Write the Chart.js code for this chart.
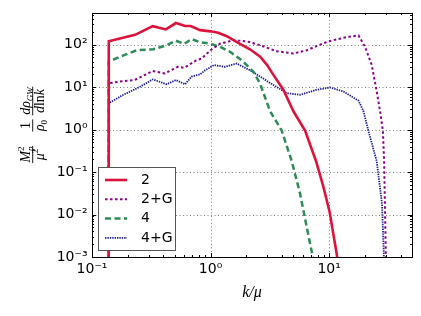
<!DOCTYPE html>
<html>
<head>
<meta charset="utf-8">
<script src="https://cdn.jsdelivr.net/npm/chart.js@4.4.0/dist/chart.umd.min.js"></script>
<style>
  html, body { margin: 0; padding: 0; background: #fff; }
</style>
</head>
<body>
<canvas id="myChart" width="421" height="316"></canvas>
<script>
// series names (legend order)
const seriesNames = ['2', '2+G', '4', '4+G'];

// k/mu values and spectrum values
const k_2   = [0.138, 0.1385, 0.231, 0.325, 0.42, 0.51, 0.61, 0.68, 0.815, 1.0, 1.16, 1.37, 1.77, 2.15, 2.62, 3.0, 3.39, 4.11, 5.0, 6.27, 7.76, 8.96, 10.1, 11.7, 12.5];
const rho_2 = [1e-5, 120, 170, 273, 229, 323, 275, 275, 220, 206, 190, 158, 105, 78, 52, 33, 19.4, 8.7, 2.7, 0.95, 0.18, 0.044, 0.0115, 0.001, 0.0003];

const k_2G   = [0.138, 0.1385, 0.172, 0.23, 0.325, 0.41, 0.53, 0.6, 0.75, 0.84, 1.0, 1.2, 1.55, 2.02, 2.62, 3.62, 5.0, 6.5, 8.0, 9.9, 14.1, 17.7, 20.1, 22.9, 25.2, 26.9, 28.4, 29.1, 30.1, 30.6];
const rho_2G = [1e-5, 12.3, 13.5, 14.8, 24, 21, 30, 28.6, 42, 47, 74, 105, 127, 120, 97, 70, 62, 74, 95, 120, 151, 165, 89, 33, 7.9, 2.7, 0.95, 0.18, 0.001, 0.0002];

const k_4   = [0.138, 0.1385, 0.184, 0.238, 0.329, 0.427, 0.51, 0.6, 0.69, 0.81, 1.0, 1.2, 1.46, 1.89, 2.15, 2.3, 2.62, 3.18, 3.98, 4.84, 5.69, 6.48, 7.28, 7.8];
const rho_4 = [1e-5, 40, 56, 74, 78, 97, 124, 104, 136, 115, 105, 89, 68, 40, 27.5, 23, 12, 2.7, 0.95, 0.18, 0.031, 0.005, 0.001, 0.0003];

const k_4G   = [0.138, 0.1385, 0.184, 0.254, 0.325, 0.427, 0.51, 0.61, 0.69, 0.815, 0.9, 1.07, 1.32, 1.66, 2.15, 2.62, 3.39, 4.4, 5.69, 7.87, 10.2, 13.2, 17.7, 19.5, 21.4, 25.2, 27.9, 29.0, 29.6];
const rho_4G = [1e-5, 4.2, 6.6, 10.2, 15.2, 11.7, 14.7, 11.7, 17.7, 20, 25, 33, 30, 36, 25, 17.7, 11.2, 7.2, 6.6, 8.7, 9.8, 7.9, 4.8, 2.7, 0.95, 0.18, 0.018, 0.001, 0.0002];

// axis ranges
const xMin = 0.1, xMax = 50;
const yMin = 1e-3, yMax = 560;

const supChars = { '-': '\u207B', '0': '\u2070', '1': '\u00B9', '2': '\u00B2', '3': '\u00B3' };
function powLabel(v) {
  const e = Math.log10(v);
  const r = Math.round(e);
  if (Math.abs(e - r) > 1e-6) return '';
  return '10' + String(r).split('').map(c => supChars[c]).join('');
}

function pts(ks, ys) {
  return ks.map((k, i) => ({ x: k, y: ys[i] }));
}

// inner decade tick values (major + 2..9 minor) of a log axis
function logTicks(lo, hi) {
  const out = [];
  for (let e = Math.floor(Math.log10(lo)); e <= Math.ceil(Math.log10(hi)); e++) {
    for (let m = 1; m < 10; m++) {
      const v = m * Math.pow(10, e);
      if (v >= lo * 0.9999 && v <= hi * 1.0001) out.push({ v: v, major: m === 1 });
    }
  }
  return out;
}

function drawRich(ctx, pieces, u0, v0) {
  let u = u0;
  pieces.forEach(p => {
    ctx.font = p.f;
    ctx.fillText(p.t, u, v0 + (p.dy || 0));
    if (p.adv !== false) u += ctx.measureText(p.t).width;
  });
}
function richWidth(ctx, pieces) {
  let w = 0;
  pieces.forEach(p => { ctx.font = p.f; if (p.adv !== false) w += ctx.measureText(p.t).width; });
  return w;
}

const serifI = 'italic 14px "Liberation Serif"';
const serif = '14px "Liberation Serif"';
const smallI = 'italic 9px "Liberation Serif"';
const small = '9px "Liberation Serif"';

const decor = {
  id: 'decor',
  beforeDatasetsDraw(chart) {
    const ctx = chart.ctx, a = chart.chartArea;
    const xs = chart.scales.x, ys = chart.scales.y;
    ctx.save();
    ctx.strokeStyle = 'rgba(0,0,0,0.5)';
    ctx.lineWidth = 1;
    ctx.setLineDash([1, 2.5]);
    logTicks(xMin, xMax).filter(t => t.major).forEach(t => {
      const px = Math.round(xs.getPixelForValue(t.v)) + 0.5;
      if (px <= a.left + 1 || px >= a.right - 1) return;
      ctx.beginPath(); ctx.moveTo(px, a.top); ctx.lineTo(px, a.bottom); ctx.stroke();
    });
    logTicks(yMin, yMax).filter(t => t.major).forEach(t => {
      const py = Math.round(ys.getPixelForValue(t.v)) + 0.5;
      if (py <= a.top + 1 || py >= a.bottom - 1) return;
      ctx.beginPath(); ctx.moveTo(a.left, py); ctx.lineTo(a.right, py); ctx.stroke();
    });
    ctx.restore();
  },
  afterDatasetsDraw(chart) {
    const ctx = chart.ctx, a = chart.chartArea;
    const xs = chart.scales.x, ys = chart.scales.y;
    ctx.save();
    // ticks pointing inward on all four sides
    ctx.strokeStyle = '#000';
    ctx.lineWidth = 1;
    logTicks(xMin, xMax).forEach(t => {
      const px = Math.round(xs.getPixelForValue(t.v)) + 0.5;
      const len = t.major ? 4 : 2;
      ctx.beginPath();
      ctx.moveTo(px, a.bottom); ctx.lineTo(px, a.bottom - len);
      ctx.moveTo(px, a.top); ctx.lineTo(px, a.top + len);
      ctx.stroke();
    });
    logTicks(yMin, yMax).forEach(t => {
      const py = Math.round(ys.getPixelForValue(t.v)) + 0.5;
      const len = t.major ? 4 : 2;
      ctx.beginPath();
      ctx.moveTo(a.left, py); ctx.lineTo(a.left + len, py);
      ctx.moveTo(a.right, py); ctx.lineTo(a.right - len, py);
      ctx.stroke();
    });
    // frame
    ctx.strokeRect(Math.round(a.left) + 0.5, Math.round(a.top) + 0.5,
      Math.round(a.right - a.left), Math.round(a.bottom - a.top));

    // legend
    const lx = 98.5, ly = 167.5, lw = 77, lh = 83;
    ctx.fillStyle = '#fff';
    ctx.fillRect(lx, ly, lw, lh);
    ctx.strokeStyle = '#555';
    ctx.strokeRect(lx, ly, lw, lh);
    chart.data.datasets.forEach((ds, i) => {
      const y = 180 + i * 19.3;
      ctx.strokeStyle = ds.borderColor;
      ctx.lineWidth = ds.borderWidth;
      ctx.setLineDash(ds.borderDash || []);
      ctx.beginPath(); ctx.moveTo(105, y); ctx.lineTo(127, y); ctx.stroke();
      ctx.setLineDash([]);
      ctx.fillStyle = '#000';
      ctx.font = '14px "DejaVu Sans"';
      ctx.textBaseline = 'middle';
      ctx.textAlign = 'left';
      ctx.fillText(ds.label, 141, y);
    });

    // x axis title
    ctx.fillStyle = '#000';
    ctx.textBaseline = 'alphabetic';
    ctx.textAlign = 'center';
    ctx.font = 'italic 16px "Liberation Serif"';
    ctx.fillText('k/\u03BC', 252, 297);

    // y axis title, three stacked fractions
    ctx.translate(32.7, 0);
    ctx.rotate(-Math.PI / 2);
    ctx.textAlign = 'left';
    const fracs = [
      { c: 154.5,
        num: [{ t: 'M', f: serifI }, { t: '2', f: small, dy: -6, adv: false }, { t: 'p', f: smallI, dy: 3 }],
        den: [{ t: '\u03BC', f: serifI }, { t: '2', f: small, dy: -6 }] },
      { c: 125.5,
        num: [{ t: '1', f: serif }],
        den: [{ t: '\u03C1', f: serifI }, { t: '0', f: small, dy: 3 }] },
      { c: 101,
        num: [{ t: 'd', f: serifI }, { t: '\u03C1', f: serifI }, { t: 'GW', f: smallI, dy: 3 }],
        den: [{ t: 'd', f: serifI }, { t: 'ln', f: serif }, { t: 'k', f: serifI }] }
    ];
    fracs.forEach(fr => {
      const wn = richWidth(ctx, fr.num), wd = richWidth(ctx, fr.den);
      const w = Math.max(wn, wd) + 1;
      const uc = -fr.c;
      drawRich(ctx, fr.num, uc - wn / 2, -2.5);
      drawRich(ctx, fr.den, uc - wd / 2, 11.5);
      ctx.lineWidth = 0.9;
      ctx.strokeStyle = '#000';
      ctx.beginPath(); ctx.moveTo(uc - w / 2, 0); ctx.lineTo(uc + w / 2, 0); ctx.stroke();
    });
    ctx.restore();
  }
};

const chart_obj = document.getElementById('myChart');

new Chart(chart_obj, {
  type: 'line',
  data: {
    datasets: [{
      label: seriesNames[0],
      data: pts(k_2, rho_2),
      borderColor: '#dc143c',
      borderWidth: 2.6
    }, {
      label: seriesNames[1],
      data: pts(k_2G, rho_2G),
      borderColor: '#8b008b',
      borderWidth: 2,
      borderDash: [2.5, 2.5]
    }, {
      label: seriesNames[2],
      data: pts(k_4, rho_4),
      borderColor: '#2e8b57',
      borderWidth: 2.5,
      borderDash: [6, 3.5]
    }, {
      label: seriesNames[3],
      data: pts(k_4G, rho_4G),
      borderColor: '#1e1e96',
      borderWidth: 1.8,
      borderDash: [1.4, 1]
    }]
  },
  options: {
    responsive: false,
    animation: false,
    devicePixelRatio: 1,
    parsing: false,
    elements: { point: { radius: 0 }, line: { tension: 0, fill: false } },
    layout: { padding: { top: 10, right: 9, left: 0, bottom: 0 } },
    plugins: { legend: { display: false }, tooltip: { enabled: false } },
    scales: {
      x: {
        type: 'logarithmic',
        min: xMin,
        max: xMax,
        grid: { display: false, drawTicks: false },
        border: { display: false },
        ticks: {
          autoSkip: false,
          maxRotation: 0,
          padding: 4,
          color: '#000',
          font: { family: 'DejaVu Sans', size: 14 },
          callback: v => powLabel(v)
        },
        afterFit: s => { s.height = 59; }
      },
      y: {
        type: 'logarithmic',
        min: yMin,
        max: yMax,
        grid: { display: false, drawTicks: false },
        border: { display: false },
        ticks: {
          autoSkip: false,
          padding: 4.5,
          color: '#000',
          font: { family: 'DejaVu Sans', size: 14 },
          callback: v => powLabel(v)
        },
        afterFit: s => { s.width = 92; }
      }
    }
  },
  plugins: [decor]
});
</script>
</body>
</html>
